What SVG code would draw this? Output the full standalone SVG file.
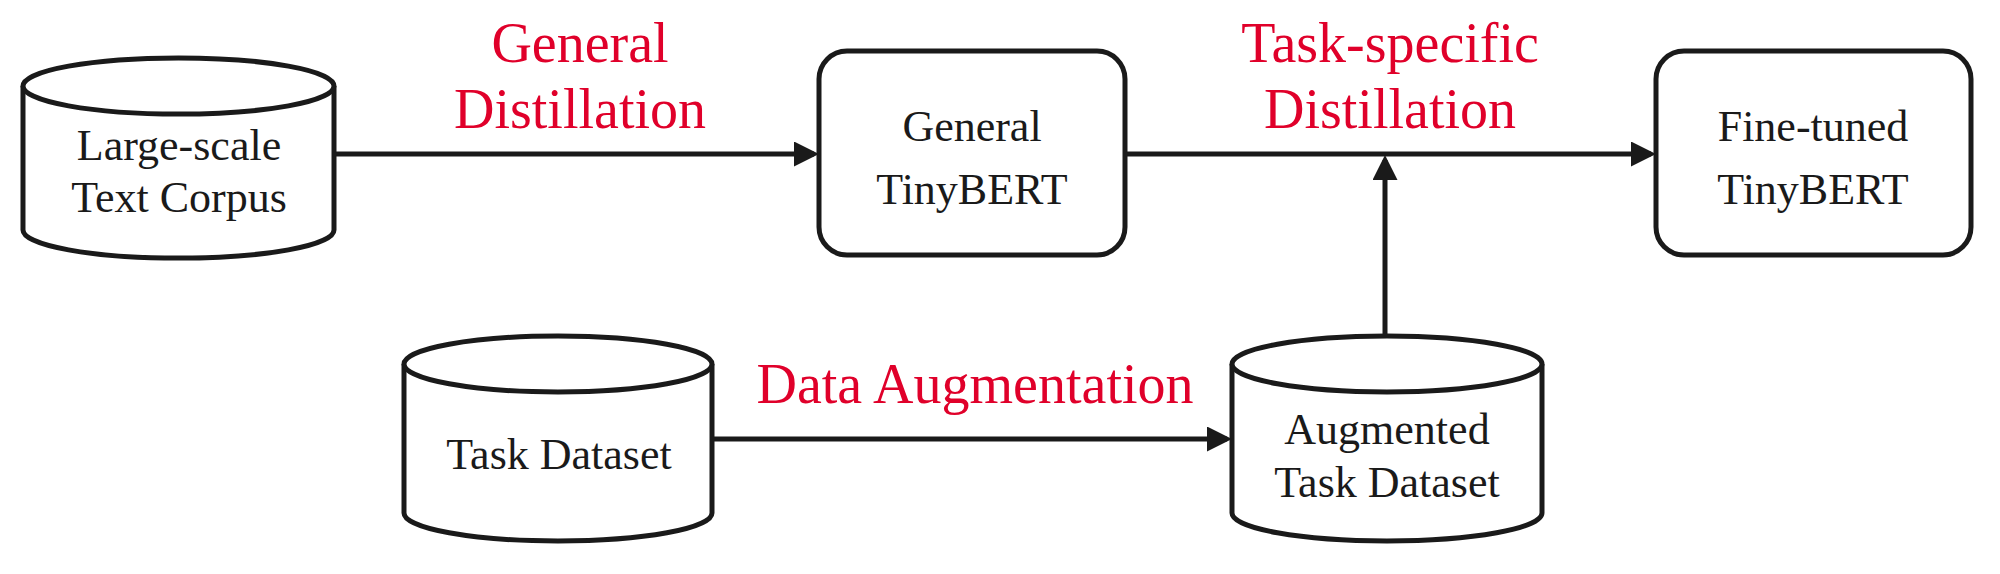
<svg xmlns="http://www.w3.org/2000/svg" width="2000" height="574" viewBox="0 0 2000 574">
<style>
.s{fill:#fff;stroke:#1a1a1a;stroke-width:5}
.t{font-family:"Liberation Serif",serif;font-size:44px;fill:#1a1a1a;text-anchor:middle}
.r{font-family:"Liberation Serif",serif;font-size:56px;fill:#e0002a;text-anchor:middle}
.c{stroke:#1a1a1a;stroke-width:5;fill:none}
</style>
<defs><marker id="a" markerWidth="5" markerHeight="5" refX="4" refY="2.5" orient="auto" markerUnits="strokeWidth"><path d="M0,0L5,2.5L0,5z" fill="#1a1a1a"/></marker></defs>
<rect width="2000" height="574" fill="#fff"/>
<g id="corpus"><path class="s" d="M23,86A155,28 0 0 1 334,86V230A155,28 0 0 1 23,230Z"/><path class="s" d="M23,86A155,28 0 0 0 334,86"/><text class="t" x="179" y="160">Large-scale</text><text class="t" x="179" y="212">Text Corpus</text></g>
<g id="general"><rect class="s" x="819" y="51" width="306" height="204" rx="28"/><text class="t" x="972" y="141">General</text><text class="t" x="972" y="204">TinyBERT</text></g>
<g id="finetuned"><rect class="s" x="1656" y="51" width="315" height="204" rx="28"/><text class="t" x="1813" y="141">Fine-tuned</text><text class="t" x="1813" y="204">TinyBERT</text></g>
<g id="task"><path class="s" d="M404,364A154,28 0 0 1 712,364V513A154,28 0 0 1 404,513Z"/><path class="s" d="M404,364A154,28 0 0 0 712,364"/><text class="t" x="559" y="469">Task Dataset</text></g>
<g id="aug"><path class="s" d="M1232,364A155,28 0 0 1 1542,364V513A155,28 0 0 1 1232,513Z"/><path class="s" d="M1232,364A155,28 0 0 0 1542,364"/><text class="t" x="1387" y="444">Augmented</text><text class="t" x="1387" y="497">Task Dataset</text></g>
<g id="connectors">
<line class="c" x1="334" y1="154" x2="814" y2="154" marker-end="url(#a)"/>
<line class="c" x1="1125" y1="154" x2="1651" y2="154" marker-end="url(#a)"/>
<line class="c" x1="1385" y1="336" x2="1385" y2="160" marker-end="url(#a)"/>
<line class="c" x1="712" y1="439" x2="1227" y2="439" marker-end="url(#a)"/>
<text class="r" x="580" y="62">General</text><text class="r" x="580" y="128">Distillation</text>
<text class="r" x="1390" y="62">Task-specific</text><text class="r" x="1390" y="128">Distillation</text>
<text class="r" x="975" y="403">Data Augmentation</text>
</g>
</svg>
